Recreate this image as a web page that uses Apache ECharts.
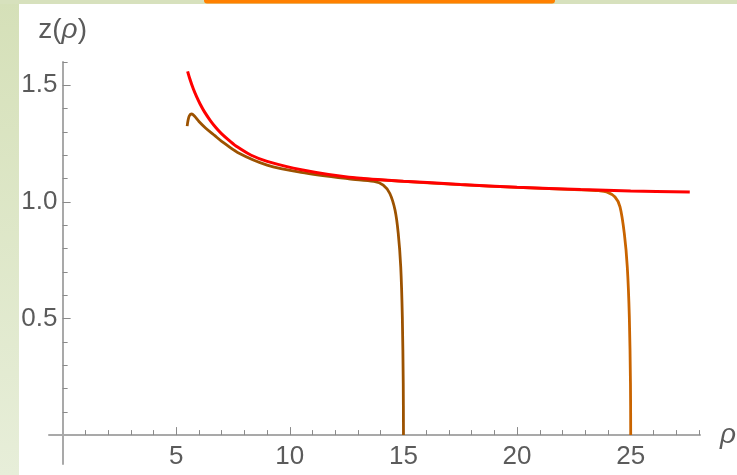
<!DOCTYPE html>
<html>
<head>
<meta charset="utf-8">
<script src="https://cdn.jsdelivr.net/npm/echarts@6/dist/echarts.min.js"></script>
<style>
  html, body { margin: 0; padding: 0; background: #fff; }
  #chart { width: 737px; height: 475px; }
</style>
</head>
<body>
<div id="chart"></div>
<script>
// red curve
const rhoRed = [5.5, 5.6, 5.75, 5.9, 6.05, 6.25, 6.5, 6.75, 7, 7.35, 7.7, 8.3, 9, 10.5, 12.6, 15, 17.5, 20, 22.8, 25, 27.6]
const zRed = [1.56, 1.527, 1.485, 1.45, 1.42, 1.385, 1.349, 1.318, 1.292, 1.262, 1.235, 1.2, 1.174, 1.138, 1.106, 1.089, 1.075, 1.063, 1.053, 1.047, 1.042]

// dark brown curve, drops at rho = 15
const rhoBrown = [5.48, 5.52, 5.58, 5.68, 5.8, 6.0, 6.3, 6.7, 7, 7.7, 9, 10.5, 12.6, 13.7, 14.11, 14.4, 14.63, 14.77, 14.88, 14.95, 14.99, 15.0]
const zBrown = [1.325, 1.35, 1.37, 1.377, 1.368, 1.345, 1.316, 1.284, 1.26, 1.212, 1.158, 1.127, 1.099, 1.088, 1.072, 1.036, 0.964, 0.865, 0.721, 0.507, 0.222, 0]

// orange-brown curve, hidden under red until it drops at rho = 25
const rhoOrange = [12.6, 15, 17.5, 20, 22.8, 23.6, 23.94, 24.31, 24.53, 24.72, 24.85, 24.94, 24.99, 25.0]
const zOrange = [1.104, 1.088, 1.074, 1.062, 1.052, 1.048, 1.043, 1.021, 0.979, 0.864, 0.721, 0.507, 0.222, 0]

// ticks and labels
const xMinor = [1, 2, 3, 4, 6, 7, 8, 9, 11, 12, 13, 14, 16, 17, 18, 19, 21, 22, 23, 24, 26, 27, 28]
const xMajor = [5, 10, 15, 20, 25]
const yMinor = [0.1, 0.2, 0.3, 0.4, 0.6, 0.7, 0.8, 0.9, 1.1, 1.2, 1.3, 1.4, 1.6]
const yMajor = [0.5, 1.0, 1.5]

const pairs = (xs, ys) => xs.map((x, i) => [x, ys[i]])

const labelColor = '#5b5b5b'
const font = 'Liberation Sans, Arial, sans-serif'
const axisColor = '#a9a9a9'
const tickColor = '#8a8a8a'
const X_MAX = 28.05
const Y_MAX = 1.6

const chart = echarts.init(document.getElementById('chart'))

// grid 0 holds the curves and the crossing axis lines, grid 1 (same scale, origin at its corner) holds the tick labels
const xBase = { type: 'value', gridIndex: 0, min: -0.6, max: X_MAX, position: 'bottom', splitLine: { show: false } }
const yBase = { type: 'value', gridIndex: 0, min: -0.124, max: Y_MAX, position: 'left', splitLine: { show: false } }

chart.setOption({
  animation: false,
  backgroundColor: '#fff',
  grid: [
    { left: 49, right: 37, top: 62, bottom: 11, outerBoundsMode: 'none' },
    { left: 62.5, right: 37, top: 62, bottom: 40, outerBoundsMode: 'none' },
  ],
  graphic: [
    {
      type: 'rect', left: 0, top: 0, z: -10,
      shape: { width: 19, height: 475 },
      style: { fill: new echarts.graphic.LinearGradient(0, 0, 0, 1, [
        { offset: 0, color: '#d5e0b8' }, { offset: 1, color: '#e7eed9' },
      ]) },
    },
    { type: 'rect', left: 0, top: 0, z: -10, shape: { width: 737, height: 4 }, style: { fill: '#d7e1bd' } },
    { type: 'rect', left: 204, top: 0, z: -9, shape: { width: 351, height: 3.5, r: [0, 0, 3, 3] }, style: { fill: '#ff8000' } },
  ],
  xAxis: [
    {
      ...xBase,
      name: 'ρ', nameLocation: 'end', nameGap: 20,
      nameTextStyle: { fontFamily: font, fontSize: 28, fontStyle: 'italic', color: labelColor, verticalAlign: 'middle' },
      axisLine: { onZero: true, onZeroAxisIndex: 0, lineStyle: { color: axisColor, width: 2 } },
      axisTick: { inside: true, length: 5, customValues: xMinor, lineStyle: { color: tickColor, width: 1 } },
      axisLabel: { show: false },
    },
    {
      ...xBase,
      axisLine: { show: false, onZero: true, onZeroAxisIndex: 0 },
      axisTick: { inside: true, length: 8, customValues: xMajor, lineStyle: { color: tickColor, width: 1 } },
      axisLabel: { show: false },
    },
    {
      type: 'value', gridIndex: 1, min: 0, max: X_MAX, position: 'bottom',
      splitLine: { show: false }, axisLine: { show: false, onZero: false }, axisTick: { show: false },
      axisLabel: { customValues: xMajor, margin: 9, fontFamily: font, fontSize: 26, color: labelColor },
    },
  ],
  yAxis: [
    {
      ...yBase,
      name: '{n|z(}{i|ρ}{n|)}', nameLocation: 'end', nameGap: 18,
      nameTextStyle: {
        rich: {
          n: { fontFamily: font, fontSize: 28, color: labelColor },
          i: { fontFamily: font, fontSize: 28, color: labelColor, fontStyle: 'italic' },
        },
      },
      axisLine: { onZero: true, onZeroAxisIndex: 0, lineStyle: { color: axisColor, width: 2 } },
      axisTick: { inside: true, length: 5, customValues: yMinor, lineStyle: { color: tickColor, width: 1 } },
      axisLabel: { show: false },
    },
    {
      ...yBase,
      axisLine: { show: false, onZero: true, onZeroAxisIndex: 0 },
      axisTick: { inside: true, length: 8, customValues: yMajor, lineStyle: { color: tickColor, width: 1 } },
      axisLabel: { show: false },
    },
    {
      type: 'value', gridIndex: 1, min: 0, max: Y_MAX, position: 'left',
      splitLine: { show: false }, axisLine: { show: false, onZero: false }, axisTick: { show: false },
      axisLabel: {
        customValues: yMajor, margin: 5, fontFamily: font, fontSize: 26, color: labelColor,
        formatter: v => v.toFixed(1),
      },
    },
  ],
  series: [
    {
      type: 'line', data: pairs(rhoOrange, zOrange), showSymbol: false, smooth: 0.3, z: 2,
      lineStyle: { color: '#c96400', width: 2.8 },
    },
    {
      type: 'line', data: pairs(rhoBrown, zBrown), showSymbol: false, smooth: 0.3, z: 3,
      lineStyle: { color: '#9c5200', width: 2.8 },
    },
    {
      type: 'line', data: pairs(rhoRed, zRed), showSymbol: false, smooth: 0.3, z: 4,
      lineStyle: { color: '#ff0000', width: 3 },
    },
  ],
})
</script>
</body>
</html>
